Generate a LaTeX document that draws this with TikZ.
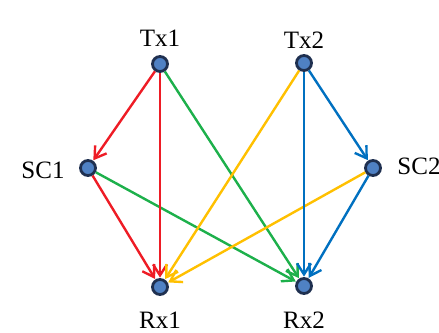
\documentclass[tikz,border=0pt]{standalone}
\usepackage{fontspec}
\setmainfont{Liberation Serif}
\usetikzlibrary{arrows.meta}
\definecolor{cred}{HTML}{EE1C25}
\definecolor{cgreen}{HTML}{1DB04B}
\definecolor{cyellow}{HTML}{FFC000}
\definecolor{cblue}{HTML}{0070C0}
\definecolor{nfill}{HTML}{4F81C4}
\definecolor{nline}{HTML}{1F3050}
\begin{document}
\begin{tikzpicture}[x=1pt,y=-1pt,
  dot/.style={circle,fill=nfill,draw=nline,line width=2.8pt,minimum size=15pt,inner sep=0pt},
  lbl/.style={font=\fontsize{25}{29}\selectfont,inner sep=0pt},
  link/.style={line width=2.4pt,-{Straight Barb[length=11pt,width=14pt,line width=2.4pt]},shorten >=0.5pt}]
\useasboundingbox (0,0) rectangle (439,332);
\node[dot] (tx1) at (160,64) {};
\node[dot] (tx2) at (304,63) {};
\node[dot] (sc1) at (88,168) {};
\node[dot] (sc2) at (373,168) {};
\node[dot] (rx1) at (160,287) {};
\node[dot] (rx2) at (304,286) {};
\node[lbl] (ltx1) at (160,38) {Tx1};
\node[lbl] (ltx2) at (304,40) {Tx2};
\node[lbl] (lsc1) at (43,170) {SC1};
\node[lbl] (lsc2) at (419,166) {SC2};
\node[lbl] (lrx1) at (160,320) {Rx1};
\node[lbl] (lrx2) at (304,320) {Rx2};
\draw[link,cgreen] (tx1) -- (rx2);
\draw[link,cgreen] (sc1) -- (rx2);
\draw[link,cred] (tx1) -- (sc1);
\draw[link,cred] (tx1) -- (rx1);
\draw[link,cred] (sc1) -- (rx1);
\draw[link,cyellow] (tx2) -- (rx1);
\draw[link,cyellow] (sc2) -- (rx1);
\draw[link,cblue] (tx2) -- (sc2);
\draw[link,cblue] (tx2) -- (rx2);
\draw[link,cblue] (sc2) -- (rx2);
\end{tikzpicture}
\end{document}
